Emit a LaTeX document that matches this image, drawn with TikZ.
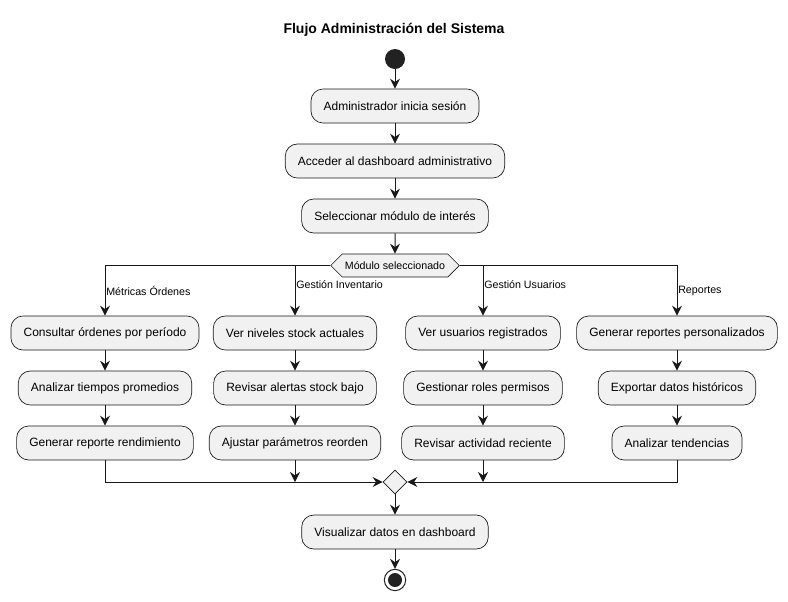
\documentclass[tikz,border=0pt]{standalone}
\usepackage{fontspec}
\setmainfont{Liberation Sans}
\usetikzlibrary{arrows.meta,calc,shapes.geometric,shapes.symbols}
\definecolor{boxfill}{HTML}{F1F1F1}
\definecolor{boxline}{HTML}{181818}
\definecolor{dark}{HTML}{222222}
\begin{document}
\begin{tikzpicture}[x=0.75pt,y=-0.75pt,
 act/.style={draw=boxline, fill=boxfill, rounded corners=9pt, minimum height=25.5pt, inner xsep=9.5pt, inner ysep=0pt, font=\fontsize{9}{11}\selectfont, line width=0.5pt},
 flow/.style={draw=boxline, line width=0.75pt, -{Stealth[length=7.5pt,width=7.5pt,inset=2.5pt]}},
 lbl/.style={font=\fontsize{8}{10}\selectfont, anchor=west, inner sep=0pt}]
\useasboundingbox (0,0) rectangle (788,601);
\node[font=\bfseries\fontsize{10.5}{12}\selectfont] (title) at (394,30) {Flujo Administración del Sistema};
\node[circle, fill=dark, minimum size=15pt, inner sep=0pt] (start) at (395,59) {};
\node[act] (a1) at (395,106) {Administrador inicia sesión};
\node[act] (a2) at (395,161) {Acceder al dashboard administrativo};
\node[act] (a3) at (395,216) {Seleccionar módulo de interés};
\node[signal, signal to=west and east, signal pointer angle=90, draw=boxline, fill=boxfill, line width=0.5pt, minimum height=17.25pt, inner xsep=2pt, inner ysep=0pt, font=\fontsize{8}{10}\selectfont] (hex) at (395,265.5) {Módulo seleccionado};
\node[act] (m1) at (105,333) {Consultar órdenes por período};
\node[act] (m2) at (105,388) {Analizar tiempos promedios};
\node[act] (m3) at (105,443) {Generar reporte rendimiento};
\node[act] (i1) at (295,333) {Ver niveles stock actuales};
\node[act] (i2) at (295,388) {Revisar alertas stock bajo};
\node[act] (i3) at (295,443) {Ajustar parámetros reorden};
\node[act] (u1) at (483,333) {Ver usuarios registrados};
\node[act] (u2) at (483,388) {Gestionar roles permisos};
\node[act] (u3) at (483,443) {Revisar actividad reciente};
\node[act] (r1) at (677,333) {Generar reportes personalizados};
\node[act] (r2) at (677,388) {Exportar datos históricos};
\node[act] (r3) at (677,443) {Analizar tendencias};
\node[diamond, draw=boxline, fill=boxfill, line width=0.5pt, minimum width=18pt, minimum height=18pt, inner sep=0pt] (merge) at (395,482) {};
\node[act] (vis) at (395,532) {Visualizar datos en dashboard};
\node[circle, draw=dark, fill=white, line width=0.75pt, minimum size=16pt, inner sep=0pt] (end) at (395,580) {};
\node[circle, fill=dark, minimum size=10.5pt, inner sep=0pt] (endin) at (end) {};
\node[lbl] (lm) at (106,291) {Métricas Órdenes};
\node[lbl] (li) at (296,285) {Gestión Inventario};
\node[lbl] (lu) at (484,285) {Gestión Usuarios};
\node[lbl] (lr) at (678,291) {Reportes};
\coordinate (ji) at (295,482);
\coordinate (ju) at (483,482);
\draw[flow] (start) -- (a1);
\draw[flow] (a1) -- (a2);
\draw[flow] (a2) -- (a3);
\draw[flow] (a3) -- (hex);
\draw[flow] (hex.west) -| (m1.north);
\draw[flow] (hex.west) -| (i1.north);
\draw[flow] (hex.east) -| (u1.north);
\draw[flow] (hex.east) -| (r1.north);
\draw[flow] (m1) -- (m2);
\draw[flow] (m2) -- (m3);
\draw[flow] (i1) -- (i2);
\draw[flow] (i2) -- (i3);
\draw[flow] (u1) -- (u2);
\draw[flow] (u2) -- (u3);
\draw[flow] (r1) -- (r2);
\draw[flow] (r2) -- (r3);
\draw[flow] (m3.south) |- (merge.west);
\draw[flow] (r3.south) |- (merge.east);
\draw[flow] (i3.south) -- (ji);
\draw[flow] (u3.south) -- (ju);
\draw[flow] (merge) -- (vis);
\draw[flow] (vis) -- (end);
\end{tikzpicture}
\end{document}
